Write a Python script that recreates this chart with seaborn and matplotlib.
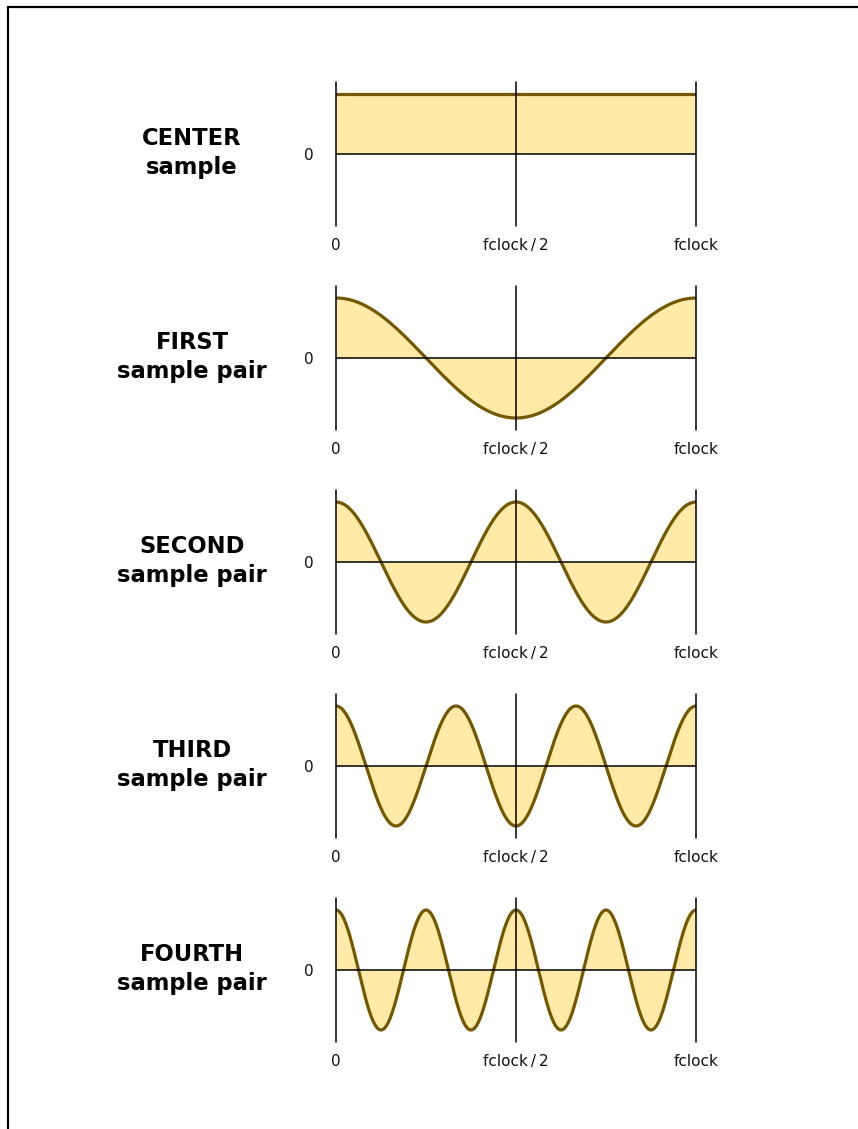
import numpy as np
import pandas as pd
import matplotlib
matplotlib.use("Agg")
import matplotlib.pyplot as plt
from matplotlib.lines import Line2D
import seaborn as sns

# ---- data ----
panel_labels = ["CENTER\nsample", "FIRST\nsample pair", "SECOND\nsample pair",
                "THIRD\nsample pair", "FOURTH\nsample pair"]
cycles_per_fclock = [0, 1, 2, 3, 4]      # number of full cosine cycles between 0 and fclock
amplitude = [1.0, 1.0, 1.0, 1.0, 1.0]
x_tick_pos = [0.0, 0.5, 1.0]
x_tick_labels = ["0", "fclock\u2009/\u20092", "fclock"]
y_tick_pos = [0]
y_tick_labels = ["0"]

sns.set_style("white")
plt.rcParams["font.family"] = ["DejaVu Sans"]
plt.rcParams["text.color"] = "black"

W, H = 858, 1129
fig = plt.figure(figsize=(W / 100, H / 100), dpi=100)

fill_color = "#FFEAA8"
line_color = "#735800"

freq = np.linspace(0, 1, 600)
for i, (lab, k, amp) in enumerate(zip(panel_labels, cycles_per_fclock, amplitude)):
    zero_px = 154 + 204 * i
    ax = fig.add_axes([336 / W, 1 - (zero_px + 72) / H, 360 / W, 144 / H])
    df = pd.DataFrame({"f": freq, "resp": amp * np.cos(2 * np.pi * k * freq)})
    ax.fill_between(df["f"], 0, df["resp"], color=fill_color, lw=0, zorder=1)
    sns.lineplot(data=df, x="f", y="resp", ax=ax, color=line_color, lw=2.3,
                 zorder=3)
    ax.axhline(0, color="black", lw=1.1, zorder=4)
    for xv in x_tick_pos:
        ax.axvline(xv, color="black", lw=1.1, zorder=4, clip_on=False)
    ax.set_xlim(0, 1)
    ax.set_ylim(-1.2, 1.2)
    for s in ax.spines.values():
        s.set_visible(False)
    ax.set_xticks(x_tick_pos, x_tick_labels)
    ax.set_yticks(y_tick_pos, y_tick_labels)
    ax.tick_params(axis="x", length=0, pad=8.5, labelsize=11, labelcolor="#111111")
    ax.tick_params(axis="y", length=8.6, width=1.1, direction="out", pad=7.5,
                   labelsize=11, colors="black", labelcolor="#111111")
    ax.set_xlabel("")
    ax.set_ylabel("")
    ax.patch.set_alpha(0)
    fig.text(192 / W, 1 - (zero_px - 1) / H, lab, ha="center", va="center",
             fontsize=16.3, fontweight="bold", linespacing=1.28, color="black")

# frame lines (top and left)
fig.add_artist(Line2D([8 / W, 1], [1 - 7 / H, 1 - 7 / H], color="black", lw=1.6,
                      transform=fig.transFigure))
fig.add_artist(Line2D([8 / W, 8 / W], [0, 1 - 7 / H], color="black", lw=1.6,
                      transform=fig.transFigure))

fig.savefig("out.png", dpi=100, facecolor="white")
